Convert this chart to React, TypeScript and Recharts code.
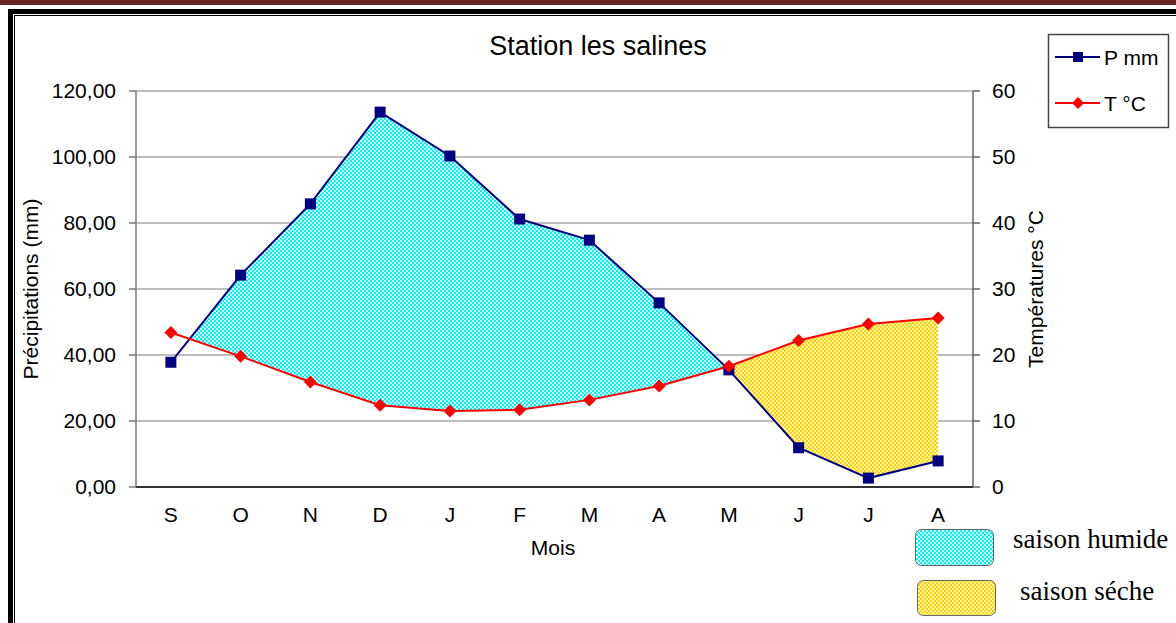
import React from 'react';
import { ComposedChart, Line, Area, XAxis, YAxis, CartesianGrid } from 'recharts';

const months = ['S', 'O', 'N', 'D', 'J', 'F', 'M', 'A', 'M', 'J', 'J', 'A'];
const precip = [37.8, 64.2, 85.8, 113.6, 100.3, 81.2, 74.8, 55.8, 35.5, 11.9, 2.7, 7.9];
const temp = [23.4, 19.8, 15.9, 12.4, 11.5, 11.7, 13.2, 15.3, 18.3, 22.2, 24.7, 25.6];
const leftTicks = [0, 20, 40, 60, 80, 100, 120];
const rightTicks = [0, 10, 20, 30, 40, 50, 60];
const xTicks = months.map((_, i) => i);

const FONT = '"Liberation Sans", Arial, sans-serif';
const SERIF = '"Liberation Serif", "Times New Roman", serif';

const lineData = months.map((m, i) => ({ x: i, P: precip[i], T: temp[i] }));

type Pt = { x: number; range: [number, number] };
type Seg = { wet: boolean; pts: Pt[]; start: boolean };

function buildSegments(): Seg[] {
  const segs: Seg[] = [];
  let cur: Seg | null = null;
  for (let i = 0; i < precip.length; i++) {
    const p = precip[i];
    const t2 = temp[i] * 2;
    const d = p - t2;
    const wet = d >= 0;
    if (!cur) {
      cur = { wet, pts: [], start: true };
      segs.push(cur);
    }
    cur.pts.push({ x: i, range: wet ? [t2, p] : [p, t2] });
    if (i < precip.length - 1) {
      const pn = precip[i + 1];
      const t2n = temp[i + 1] * 2;
      const dn = pn - t2n;
      if ((d >= 0) !== (dn >= 0)) {
        const f = d / (d - dn);
        const v = p + f * (pn - p);
        const cp: Pt = { x: i + f, range: [v, v] };
        cur.pts.push(cp);
        cur = { wet: dn >= 0, pts: [cp], start: false };
        segs.push(cur);
      }
    }
  }
  return segs;
}

const segments = buildSegments().filter((s) => s.wet || !s.start);

const fmtLeft = (v: number) => v.toFixed(2).replace('.', ',');

const SquareDot = (props: any) => {
  const { cx, cy, index } = props;
  if (cx == null || cy == null) return null;
  return <rect key={`sq-${index}`} x={cx - 5.5} y={cy - 5.5} width={11} height={11} fill="#000080" />;
};

const DiamondDot = (props: any) => {
  const { cx, cy, index } = props;
  if (cx == null || cy == null) return null;
  const r = 6.5;
  return (
    <polygon
      key={`di-${index}`}
      points={`${cx},${cy - r} ${cx + r},${cy} ${cx},${cy + r} ${cx - r},${cy}`}
      fill="#ff0000"
    />
  );
};

export default function App() {
  return (
    <div style={{ position: 'absolute', left: 0, top: 0, width: 1176, height: 623, background: '#fff', overflow: 'hidden' }}>
      <div style={{ position: 'absolute', left: 0, top: 0, width: 1176, height: 5, background: '#6b2424' }} />
      <div style={{ position: 'absolute', left: 8, top: 9, width: 1200, height: 700, borderTop: '5px solid #000', borderLeft: '5px solid #000' }} />
      <div style={{ position: 'absolute', left: 14, top: 15, width: 1200, height: 700, borderTop: '1px solid #000', borderLeft: '1px solid #000' }} />

      <svg width={0} height={0} style={{ position: 'absolute' }}>
        <defs>
          <pattern id="wetPat" width="4" height="4" patternUnits="userSpaceOnUse">
            <rect width="4" height="4" fill="#00f4f4" shapeRendering="crispEdges" />
            <rect x="0" y="0" width="2" height="2" fill="#d8ffff" shapeRendering="crispEdges" />
            <rect x="2" y="2" width="2" height="2" fill="#d8ffff" shapeRendering="crispEdges" />
          </pattern>
          <pattern id="dryPat" width="4" height="4" patternUnits="userSpaceOnUse">
            <rect width="4" height="4" fill="#ffd400" shapeRendering="crispEdges" />
            <rect x="0" y="0" width="2" height="2" fill="#fff3b0" shapeRendering="crispEdges" />
            <rect x="2" y="2" width="2" height="2" fill="#fff3b0" shapeRendering="crispEdges" />
          </pattern>
        </defs>
      </svg>

      <div style={{ position: 'absolute', left: 0, top: 0 }}>
        <ComposedChart width={1176} height={623} data={lineData} margin={{ top: 91, right: 143, bottom: 106, left: 36 }}>
          <CartesianGrid yAxisId="left" vertical={false} horizontal stroke="#a8a8a8" strokeWidth={1.5} />
          <XAxis
            dataKey="x"
            type="number"
            domain={[-0.5, 11.5]}
            ticks={xTicks}
            interval={0}
            allowDataOverflow
            tickFormatter={(v: number) => months[v]}
            tickLine={false}
            axisLine={{ stroke: '#000', strokeWidth: 1.5 }}
            tick={{ fill: '#000', fontSize: 21, fontFamily: FONT }}
            tickMargin={14}
            height={30}
          />
          <YAxis
            yAxisId="left"
            domain={[0, 120]}
            ticks={leftTicks}
            interval={0}
            tickFormatter={fmtLeft}
            width={100}
            axisLine={{ stroke: '#777', strokeWidth: 1.5 }}
            tickLine={{ stroke: '#777', strokeWidth: 1.5 }}
            tickSize={7}
            tickMargin={13}
            tick={{ fill: '#000', fontSize: 21, fontFamily: FONT }}
          />
          <YAxis
            yAxisId="right"
            orientation="right"
            domain={[0, 60]}
            ticks={rightTicks}
            interval={0}
            width={60}
            axisLine={{ stroke: '#666', strokeWidth: 1.5 }}
            tickLine={{ stroke: '#666', strokeWidth: 1.5 }}
            tickSize={7}
            tickMargin={12}
            tick={{ fill: '#000', fontSize: 21, fontFamily: FONT }}
          />
          {segments.map((s, k) => (
            <Area
              key={`seg-${k}`}
              yAxisId="left"
              data={s.pts}
              dataKey="range"
              type="linear"
              fill={s.wet ? 'url(#wetPat)' : 'url(#dryPat)'}
              fillOpacity={1}
              stroke="none"
              dot={false}
              activeDot={false}
              isAnimationActive={false}
            />
          ))}
          <Line yAxisId="left" dataKey="P" type="linear" stroke="#000080" strokeWidth={2} dot={SquareDot} activeDot={false} isAnimationActive={false} />
          <Line yAxisId="right" dataKey="T" type="linear" stroke="#ff0000" strokeWidth={2} dot={DiamondDot} activeDot={false} isAnimationActive={false} />
        </ComposedChart>
      </div>

      <svg width={1176} height={623} style={{ position: 'absolute', left: 0, top: 0, pointerEvents: 'none' }}>
        <text x={598} y={55} textAnchor="middle" fontFamily={FONT} fontSize={27} fill="#000">Station les salines</text>
        <text x={553} y={555} textAnchor="middle" fontFamily={FONT} fontSize={21} fill="#000">Mois</text>
        <text transform="translate(38,289) rotate(-90)" textAnchor="middle" fontFamily={FONT} fontSize={21} fill="#000">Précipitations (mm)</text>
        <text transform="translate(1043,289) rotate(-90)" textAnchor="middle" fontFamily={FONT} fontSize={21} fill="#000">Températures °C</text>

        <rect x={1048.5} y={34.5} width={120} height={93} fill="#fff" stroke="#444" strokeWidth={1.5} />
        <line x1={1055} y1={57} x2={1100} y2={57} stroke="#000080" strokeWidth={2} />
        <rect x={1073} y={52} width={10} height={10} fill="#000080" />
        <text x={1104} y={65} fontFamily={FONT} fontSize={21} fill="#000">P mm</text>
        <line x1={1055} y1={103} x2={1100} y2={103} stroke="#ff0000" strokeWidth={2} />
        <polygon points="1078,97 1084,103 1078,109 1072,103" fill="#ff0000" />
        <text x={1104} y={111} fontFamily={FONT} fontSize={21} fill="#000">T °C</text>

        <rect x={915.5} y={529.5} width={78} height={36} rx={6} fill="url(#wetPat)" stroke="#666" strokeWidth={1} />
        <text x={1013} y={548} fontFamily={SERIF} fontSize={27} fill="#000">saison humide</text>
        <rect x={917.5} y={580.5} width={78} height={35} rx={6} fill="url(#dryPat)" stroke="#666" strokeWidth={1} />
        <text x={1020} y={600} fontFamily={SERIF} fontSize={27} fill="#000">saison séche</text>
      </svg>
    </div>
  );
}
